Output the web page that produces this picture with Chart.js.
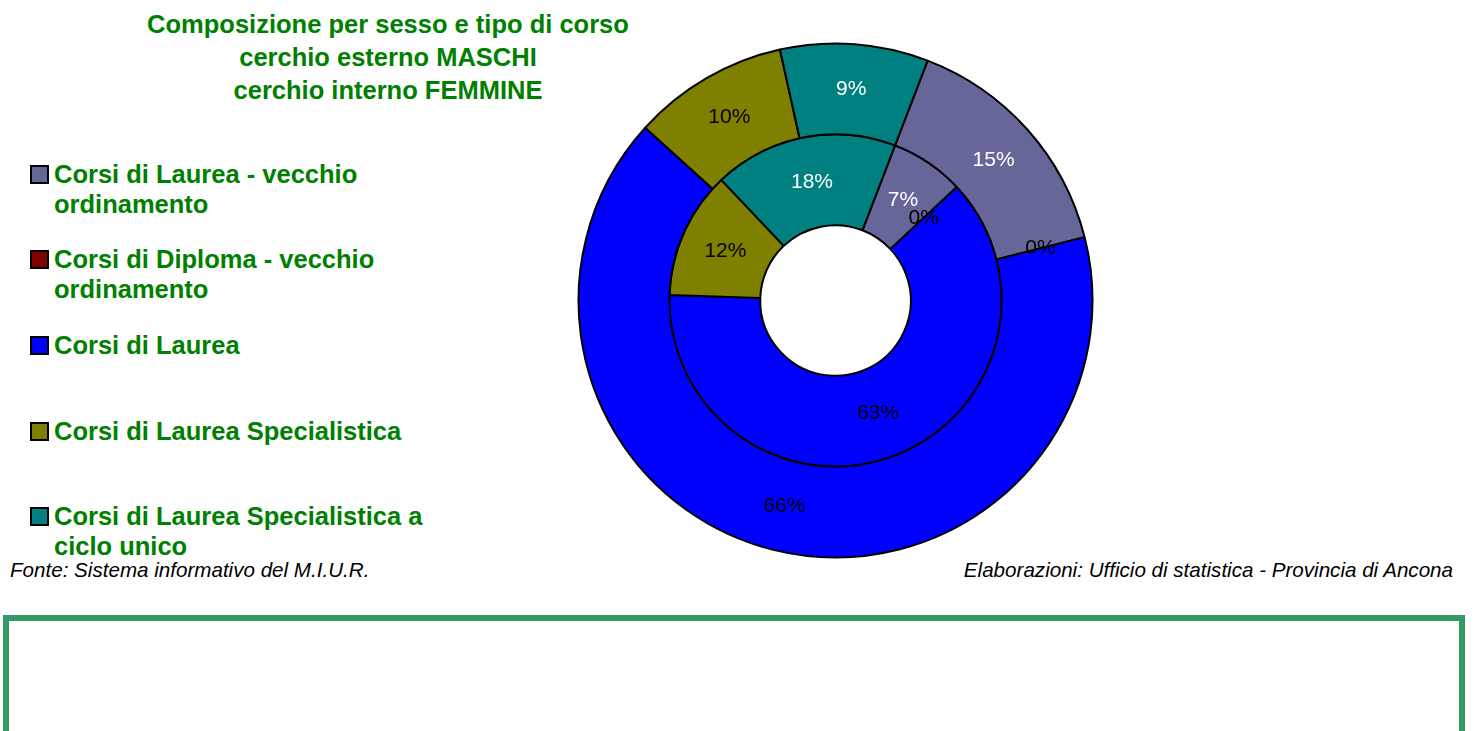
<!DOCTYPE html>
<html>
<head>
<meta charset="utf-8">
<script src="https://cdn.jsdelivr.net/npm/chart.js@4/dist/chart.umd.min.js"></script>
<style>
  body { margin: 0; width: 1474px; height: 731px; background: #fff; overflow: hidden; position: relative; font-family: Arial, "Liberation Sans", sans-serif; }
  .t { position: absolute; color: #008000; font-weight: bold; font-size: 25.5px; line-height: 30px; white-space: nowrap; }
  .title { left: 0; width: 776px; text-align: center; }
  .sw { position: absolute; left: 30px; width: 15px; height: 15px; border: 2px solid #000; }
  .foot { position: absolute; font-style: italic; font-size: 20.6px; line-height: 24px; color: #000; white-space: nowrap; }
  #box { position: absolute; left: 3px; top: 615px; width: 1450px; height: 200px; border: 6px solid #359966; }
  #wrap { position: absolute; left: 575px; top: 40px; width: 521px; height: 521px; }
</style>
</head>
<body>
<div class="t title" style="top:9px">Composizione per sesso e tipo di corso</div>
<div class="t title" style="top:42px">cerchio esterno MASCHI</div>
<div class="t title" style="top:75px">cerchio interno FEMMINE</div>
<div id="legend"></div>
<div class="foot" style="left:10px; top:558px">Fonte: Sistema informativo del M.I.U.R.</div>
<div class="foot" style="right:21px; top:558px">Elaborazioni: Ufficio di statistica - Provincia di Ancona</div>
<div id="box"></div>
<div id="wrap"><canvas id="c" width="521" height="521"></canvas></div>
<script>
const categories = [
  "Corsi di Laurea - vecchio ordinamento",
  "Corsi di Diploma - vecchio ordinamento",
  "Corsi di Laurea",
  "Corsi di Laurea Specialistica",
  "Corsi di Laurea Specialistica a ciclo unico"
];
// legend lines as wrapped in the picture
const legendLines = [
  ["Corsi di Laurea - vecchio", "ordinamento"],
  ["Corsi di Diploma - vecchio", "ordinamento"],
  ["Corsi di Laurea"],
  ["Corsi di Laurea Specialistica"],
  ["Corsi di Laurea Specialistica a", "ciclo unico"]
];
// percentages
const maschi = [15.2, 0, 65.7, 9.8, 9.3];   // outer ring
const femmine = [7.2, 0, 62.5, 12.4, 17.9]; // inner ring
const colors = ["#666699", "#800000", "#0000FF", "#808000", "#008080"];
const labelColors = ["#fff", "#000", "#000", "#000", "#fff"];

// html legend
const legendTops = [174, 259, 345, 431, 516];
const leg = document.getElementById("legend");
legendLines.forEach((lines, i) => {
  const sw = document.createElement("div");
  sw.className = "sw";
  sw.style.top = (legendTops[i] - 9) + "px";
  sw.style.background = colors[i];
  leg.appendChild(sw);
  lines.forEach((txt, j) => {
    const d = document.createElement("div");
    d.className = "t";
    d.style.left = "54px";
    d.style.top = (legendTops[i] - 15 + j * 30) + "px";
    d.textContent = txt;
    leg.appendChild(d);
  });
});

const pctLabels = {
  id: "pctLabels",
  afterDatasetsDraw(chart) {
    const ctx = chart.ctx;
    ctx.save();
    ctx.font = "21px Arial, 'Liberation Sans', sans-serif";
    ctx.textAlign = "center";
    ctx.textBaseline = "middle";
    chart.data.datasets.forEach((ds, di) => {
      const meta = chart.getDatasetMeta(di);
      meta.data.forEach((arc, i) => {
        const p = arc.getCenterPoint();
        ctx.fillStyle = ds.data[i] === 0 ? "#000" : labelColors[i];
        ctx.fillText(Math.round(ds.data[i]) + "%", p.x, p.y);
      });
    });
    ctx.restore();
  }
};

new Chart(document.getElementById("c"), {
  type: "doughnut",
  data: {
    labels: categories,
    datasets: [
      { label: "MASCHI", data: maschi, backgroundColor: colors, borderColor: "#000", borderWidth: 2 },
      { label: "FEMMINE", data: femmine, backgroundColor: colors, borderColor: "#000", borderWidth: 2 }
    ]
  },
  options: {
    responsive: false,
    animation: false,
    rotation: 21,
    radius: 257,
    cutout: 76,
    layout: { padding: 0 },
    plugins: {
      legend: { display: false },
      tooltip: { enabled: false }
    }
  },
  plugins: [pctLabels]
});
</script>
</body>
</html>
